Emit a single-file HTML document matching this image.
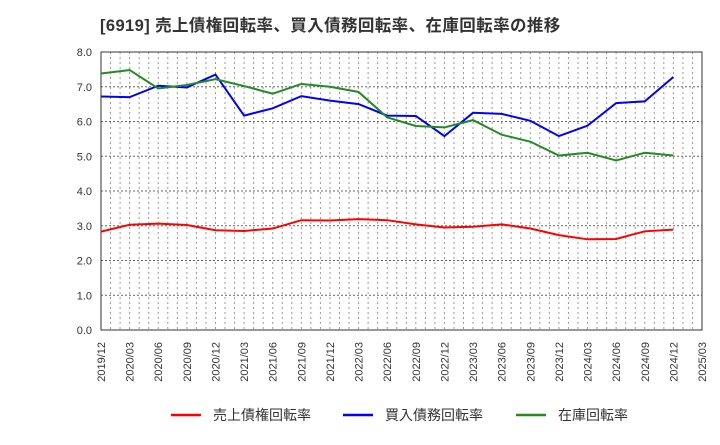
<!DOCTYPE html>
<html><head><meta charset="utf-8"><style>
body{margin:0;background:#fff;width:720px;height:440px;overflow:hidden}
text{font-family:"Liberation Sans","Noto Sans CJK JP",sans-serif}
</style></head><body>
<svg id="c" width="720" height="440" xmlns="http://www.w3.org/2000/svg">
<text x="100" y="31" font-size="16.5" letter-spacing="0.4" font-weight="bold" fill="#333">[6919]  売上債権回転率、買入債務回転率、在庫回転率の推移</text>
<g id="grid"></g><g id="axes"></g><g id="series"></g>
<g>
<line x1="171" y1="415" x2="201" y2="415" stroke="#ff0000" stroke-width="2.5"/>
<text x="213" y="420" font-size="14" fill="#333">売上債権回転率</text>
<line x1="343" y1="415" x2="373" y2="415" stroke="#0000ff" stroke-width="2.5"/>
<text x="385" y="420" font-size="14" fill="#333">買入債務回転率</text>
<line x1="516" y1="415" x2="546" y2="415" stroke="#228b22" stroke-width="2.5"/>
<text x="558" y="420" font-size="14" fill="#333">在庫回転率</text>
</g>
</svg>
<script>
const categories=["2019/12","2020/03","2020/06","2020/09","2020/12","2021/03","2021/06","2021/09","2021/12","2022/03","2022/06","2022/09","2022/12","2023/03","2023/06","2023/09","2023/12","2024/03","2024/06","2024/09","2024/12","2025/03"];
const receivables=[2.83,3.03,3.06,3.02,2.87,2.85,2.92,3.16,3.15,3.19,3.16,3.04,2.95,2.97,3.04,2.92,2.73,2.61,2.62,2.84,2.89];
const payables=[6.72,6.70,7.03,6.98,7.35,6.17,6.38,6.73,6.60,6.50,6.17,6.16,5.58,6.25,6.22,6.02,5.58,5.88,6.53,6.58,7.28];
const inventory=[7.38,7.48,6.95,7.05,7.22,7.02,6.80,7.08,7.00,6.85,6.12,5.87,5.83,6.04,5.62,5.42,5.02,5.10,4.88,5.10,5.02];
const yTicks=["0.0","1.0","2.0","3.0","4.0","5.0","6.0","7.0","8.0"];
const L=101,R=702,T=52,B=330,YMAX=8;
const ns="http://www.w3.org/2000/svg";
const xs=i=>L+i*(R-L)/(categories.length-1);
const ys=v=>B-v/YMAX*(B-T);
function mk(tag,attrs,parent){const e=document.createElementNS(ns,tag);for(const k in attrs)e.setAttribute(k,attrs[k]);parent.appendChild(e);return e;}
const grid=document.getElementById('grid'),axes=document.getElementById('axes'),ser=document.getElementById('series');
for(let m=1;m<(categories.length-1)*3;m++){const x=L+m*(R-L)/((categories.length-1)*3);
const g=mk('line',{x1:x,y1:T,x2:x,y2:B,stroke:'#999','stroke-width':1,'stroke-dasharray':'2,3'},grid);

}
yTicks.forEach(t=>{const y=ys(parseFloat(t));
const g=mk('line',{x1:L,y1:y,x2:R,y2:y,stroke:'#666','stroke-width':1,'stroke-dasharray':'2,2'},grid);


const tx=mk('text',{x:L-9,y:y+4,'font-size':11,fill:'#333','text-anchor':'end'},axes);tx.textContent=t;

});
const fr=mk('rect',{x:L,y:T,width:R-L,height:B-T,fill:'none',stroke:'#333','stroke-width':1},axes);


categories.forEach((c,i)=>{const x=xs(i);
const tx=mk('text',{x:0,y:0,'font-size':11,fill:'#333','text-anchor':'end',transform:`translate(${x+4},${B+12}) rotate(-90)`},axes);tx.textContent=c;

});
function line(data,color,name){const p=mk('polyline',{points:data.map((v,i)=>xs(i)+','+ys(v)).join(' '),fill:'none',stroke:color,'stroke-width':2},ser);

}
line(receivables,'#ff0000','receivables-line');
line(payables,'#0000ff','payables-line');
line(inventory,'#228b22','inventory-line');
</script>
</body></html>
